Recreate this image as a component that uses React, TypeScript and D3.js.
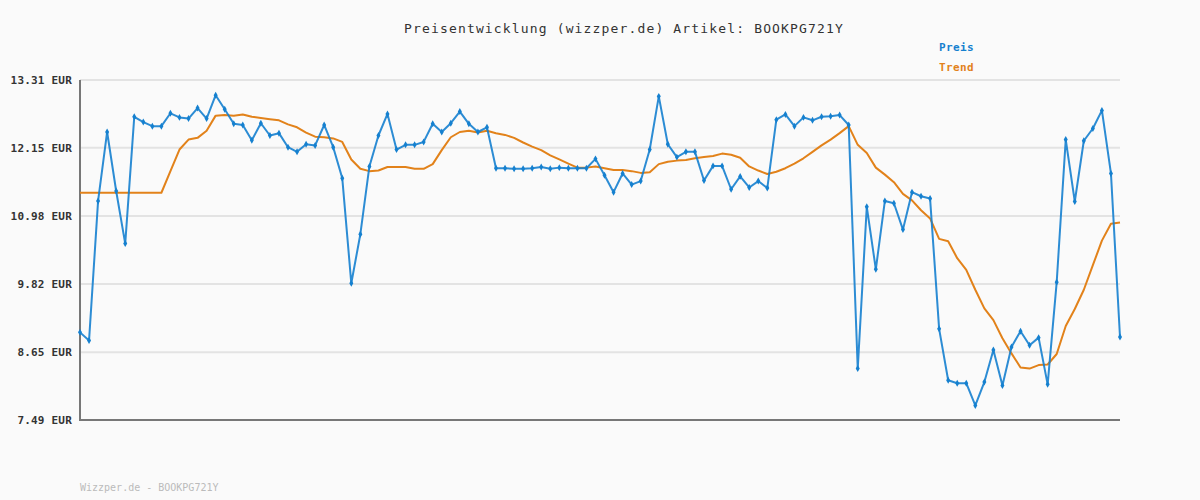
import React from "react";
import * as d3 from "d3";

const TITLE = "Preisentwicklung (wizzper.de) Artikel: BOOKPG721Y";
const FOOTER = "Wizzper.de - BOOKPG721Y";
const LEGEND = ["Preis", "Trend"];
const Y_TICKS = [7.49, 8.65, 9.82, 10.98, 12.15, 13.31];

const preis = [
  8.99, 8.85, 11.24, 12.42, 11.41, 10.51, 12.68, 12.59, 12.52, 12.52,
  12.74, 12.67, 12.65, 12.83, 12.65, 13.05, 12.81, 12.56, 12.54, 12.28,
  12.57, 12.36, 12.40, 12.16, 12.08, 12.21, 12.19, 12.54, 12.16, 11.63,
  9.83, 10.67, 11.83, 12.36, 12.73, 12.12, 12.20, 12.20, 12.25, 12.56,
  12.42, 12.57, 12.77, 12.56, 12.42, 12.50, 11.80, 11.80, 11.79, 11.79,
  11.80, 11.82, 11.79, 11.81, 11.80, 11.80, 11.80, 11.96, 11.68, 11.39,
  11.71, 11.52, 11.58, 12.12, 13.03, 12.21, 11.99, 12.08, 12.08, 11.59,
  11.84, 11.84, 11.44, 11.66, 11.47, 11.58, 11.46, 12.63, 12.72, 12.52,
  12.67, 12.62, 12.68, 12.69, 12.71, 12.54, 8.37, 11.14, 10.07, 11.24,
  11.20, 10.75, 11.39, 11.32, 11.28, 9.05, 8.17, 8.12, 8.12, 7.74,
  8.14, 8.69, 8.08, 8.74, 9.01, 8.77, 8.90, 8.10, 9.85, 12.29,
  11.23, 12.27, 12.48, 12.79, 11.71, 8.91,
];

const trend = [
  11.38, 11.38, 11.38, 11.38, 11.38, 11.38, 11.38, 11.38, 11.38, 11.38,
  11.75, 12.12, 12.29, 12.32, 12.44, 12.70, 12.71, 12.70, 12.72, 12.68,
  12.66, 12.64, 12.62, 12.55, 12.50, 12.41, 12.34, 12.33, 12.31, 12.25,
  11.95, 11.79, 11.75, 11.76, 11.82, 11.82, 11.82, 11.79, 11.79, 11.87,
  12.11, 12.33, 12.42, 12.44, 12.41, 12.44, 12.40, 12.37, 12.32, 12.24,
  12.17, 12.11, 12.02, 11.95, 11.88, 11.81, 11.81, 11.83, 11.80, 11.77,
  11.77, 11.75, 11.72, 11.73, 11.87, 11.91, 11.93, 11.94, 11.97, 11.99,
  12.01, 12.05, 12.03, 11.98, 11.83, 11.76, 11.70, 11.74, 11.80, 11.88,
  11.97, 12.08, 12.19, 12.29, 12.40, 12.52, 12.20, 12.06, 11.81, 11.69,
  11.56, 11.36, 11.25, 11.08, 10.94, 10.59, 10.55, 10.26, 10.06, 9.72,
  9.40, 9.20, 8.89, 8.63, 8.39, 8.37, 8.43, 8.44, 8.62, 9.10,
  9.39, 9.72, 10.14, 10.56, 10.85, 10.87,
];

const W = 1200;
const H = 500;
const M = { left: 80, right: 1120, top: 80, bottom: 420 };
const BLUE = "#1580cf";
const ORANGE = "#e2821a";
const MONO = "'DejaVu Sans Mono', 'Liberation Mono', monospace";

export default function App() {
  const x = d3.scaleLinear().domain([0, preis.length - 1]).range([M.left, M.right]);
  const y = d3.scaleLinear().domain([7.49, 13.31]).range([M.bottom, M.top]);
  const line = d3
    .line<number>()
    .x((_, i) => x(i))
    .y((d) => y(d));
  const marker = d3.symbol().type(d3.symbolDiamond).size(14)() || "";

  return (
    <svg
      width={W}
      height={H}
      style={{ position: "absolute", left: 0, top: 0, display: "block" }}
    >
      <rect x={0} y={0} width={W} height={H} fill="#fafafa" />
      {Y_TICKS.map((t) => (
        <g key={t}>
          <line
            x1={M.left}
            x2={M.right}
            y1={y(t)}
            y2={y(t)}
            stroke="#e3e3e3"
            strokeWidth={2}
          />
          <text
            x={72}
            y={y(t) + 4}
            textAnchor="end"
            fontFamily={MONO}
            fontWeight="bold"
            fontSize={11}
            letterSpacing={0.2}
            fill="#333"
          >
            {t.toFixed(2)} EUR
          </text>
        </g>
      ))}
      <line x1={M.left} x2={M.left} y1={M.top} y2={M.bottom + 1} stroke="#777" strokeWidth={2} />
      <line x1={M.left - 1} x2={M.right} y1={M.bottom} y2={M.bottom} stroke="#777" strokeWidth={2} />

      <path d={line(trend) || ""} fill="none" stroke={ORANGE} strokeWidth={2} strokeLinejoin="round" />
      <path d={line(preis) || ""} fill="none" stroke={BLUE} strokeWidth={2} strokeLinejoin="round" opacity={0.9} />
      {preis.map((d, i) => (
        <path key={i} d={marker} transform={`translate(${x(i)},${y(d)})`} fill={BLUE} />
      ))}

      <text
        x={624}
        y={33}
        textAnchor="middle"
        fontFamily={MONO}
        fontSize={13}
        letterSpacing={1.15}
        fill="#333"
      >
        {TITLE}
      </text>
      <text x={939} y={51} fontFamily={MONO} fontWeight="bold" fontSize={11} letterSpacing={0.4} fill={BLUE}>
        {LEGEND[0]}
      </text>
      <text x={939} y={71} fontFamily={MONO} fontWeight="bold" fontSize={11} letterSpacing={0.4} fill={ORANGE}>
        {LEGEND[1]}
      </text>
      <text x={80} y={491} fontFamily={MONO} fontSize={10} fill="#bbb">
        {FOOTER}
      </text>
    </svg>
  );
}
